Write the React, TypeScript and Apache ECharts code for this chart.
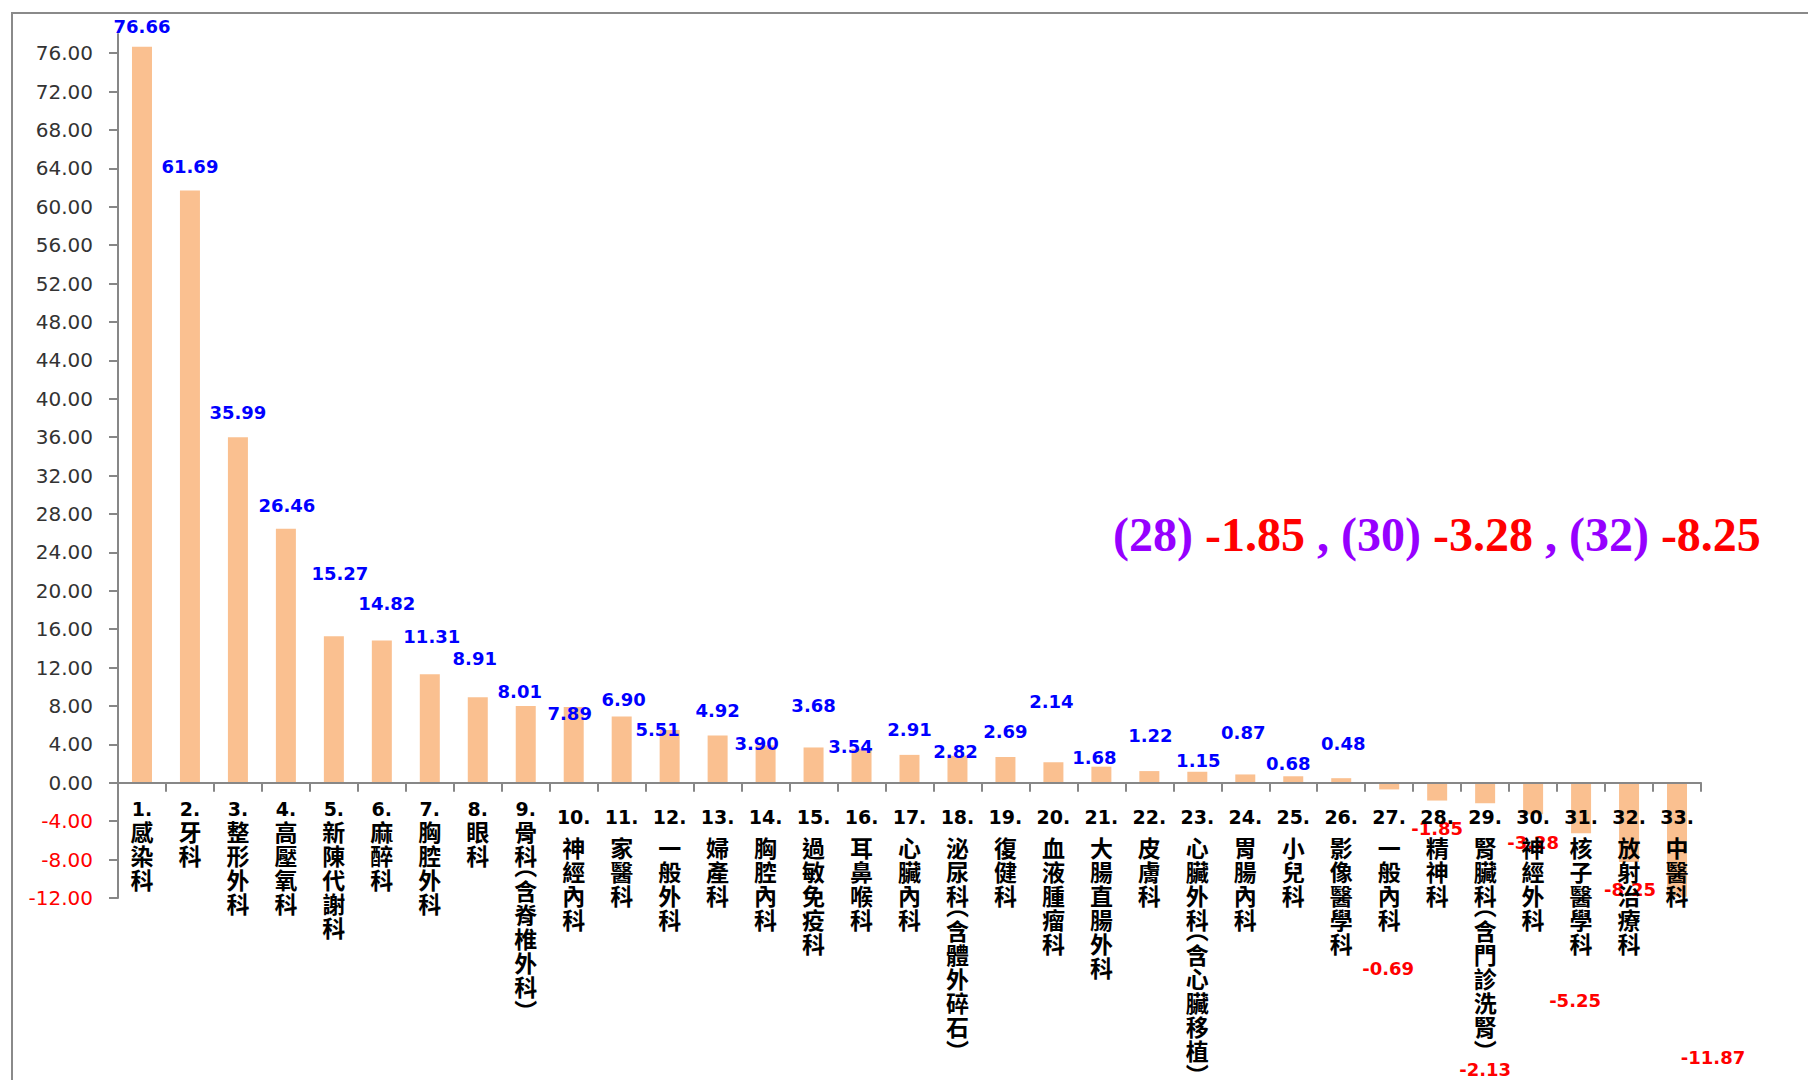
import React, { useEffect, useRef } from "react";
import * as echarts from "echarts";

// Departments in ranking order (number prefix is part of the label)
const departments = [
  "1.感染科", "2.牙科", "3.整形外科", "4.高壓氧科", "5.新陳代謝科", "6.麻醉科",
  "7.胸腔外科", "8.眼科", "9.骨科(含脊椎外科)", "10.神經內科", "11.家醫科",
  "12.一般外科", "13.婦產科", "14.胸腔內科", "15.過敏免疫科", "16.耳鼻喉科",
  "17.心臟內科", "18.泌尿科(含體外碎石)", "19.復健科", "20.血液腫瘤科",
  "21.大腸直腸外科", "22.皮膚科", "23.心臟外科(含心臟移植)", "24.胃腸內科",
  "25.小兒科", "26.影像醫學科", "27.一般內科", "28.精神科",
  "29.腎臟科(含門診洗腎)", "30.神經外科", "31.核子醫學科", "32.放射治療科", "33.中醫科",
];

// Growth per department
const growthRates = [
  76.66, 61.69, 35.99, 26.46, 15.27, 14.82, 11.31, 8.91, 8.01, 7.89, 6.9,
  5.51, 4.92, 3.9, 3.68, 3.54, 2.91, 2.82, 2.69, 2.14, 1.68, 1.22, 1.15,
  0.87, 0.68, 0.48, -0.69, -1.85, -2.13, -3.28, -5.25, -8.25, -11.87,
];

// Value-axis tick labels
const yTicks = [
  -12, -8, -4, 0, 4, 8, 12, 16, 20, 24, 28, 32, 36, 40, 44, 48, 52, 56, 60,
  64, 68, 72, 76,
];

// Highlighted departments in the side note
const noteIds = ["(28)", "(30)", "(32)"];
const noteValues = ["-1.85", "-3.28", "-8.25"];

// Hand-placed nudges [dx, dy] (px) for the value labels so they do not collide
const labelNudge: [number, number][] = [
  [0, -11], [0, -15], [0, -16], [1, -14], [6, -54], [5, -28], [2, -29],
  [-3, -30], [-6, -5], [-4, 15], [2, -8], [-12, 9], [0, -16], [-9, 7],
  [0, -33], [-11, 7], [0, -16], [-2, 5], [0, -16], [-2, -52], [-7, 0],
  [1, -27], [1, -2], [-2, -33], [-5, -4], [2, -26],
  [-1, 170], [0, 19], [0, 257], [0, 19], [-6, 158], [1, 18], [36, 152],
];

const AXIS_GREY = "#878787";
const BAR_COLOR = "#FAC090";
const Y_MIN = -12;
const Y_MAX = 78;
const GRID_TOP = 34;
const GRID_BOTTOM = 182;
const CHART_H = 1080;

// Category labels hang just below the zero line rather than the grid floor
const plotH = CHART_H - GRID_TOP - GRID_BOTTOM;
const zeroToFloor = (plotH * (0 - Y_MIN)) / (Y_MAX - Y_MIN);
const LABEL_GAP = 17;

// Stack a department name vertically: number on top, then one glyph per line
function verticalLabel(name: string): string {
  const m = name.match(/^(\d+\.)(.*)$/);
  const num = m ? m[1] : "";
  const rest = m ? m[2] : name;
  const lines: string[] = [];
  if (num) lines.push(`{${num.length > 2 ? "n2" : "n1"}|${num}}`);
  for (const ch of Array.from(rest)) {
    if (ch === "(") lines.push("{po|︵}");
    else if (ch === ")") lines.push("{pc|︶}");
    else lines.push(`{c|${ch}}`);
  }
  return lines.join("\n");
}

const CJK_FONT = '"Noto Sans CJK TC", "Noto Sans CJK SC", sans-serif';
const cjk = { fontFamily: CJK_FONT, fontWeight: "bold", fontSize: 23, color: "#000", align: "center" };
const digits = { fontFamily: "DejaVu Sans", fontWeight: "bold", fontSize: 19, color: "#000", align: "center" };

export default function App() {
  const ref = useRef<HTMLDivElement>(null);

  useEffect(() => {
    if (!ref.current) return;
    const chart = echarts.init(ref.current, undefined, { renderer: "svg" });

    const noteText = noteIds
      .map((id, i) => `{p|${id} }{r|${noteValues[i]}}`)
      .join("{p| , }");

    chart.setOption({
      animation: false,
      backgroundColor: "#ffffff",
      grid: {
        left: 118,
        right: 107,
        top: GRID_TOP,
        bottom: GRID_BOTTOM,
        containLabel: false,
        outerBoundsMode: "none",
      },
      xAxis: {
        type: "category",
        data: departments,
        z: 3,
        boundaryGap: true,
        axisLine: { show: true, onZero: true, lineStyle: { color: AXIS_GREY, width: 2 } },
        axisTick: { show: true, length: 9, lineStyle: { color: AXIS_GREY, width: 2 } },
        splitLine: { show: false },
        axisLabel: {
          interval: 0,
          margin: LABEL_GAP - zeroToFloor,
          color: "#000",
          formatter: (v: string) => verticalLabel(v),
          rich: {
            n1: { ...digits, lineHeight: 19 },
            n2: { ...digits, lineHeight: 35 },
            c: { ...cjk, lineHeight: 24 },
            // vertical bracket glyphs sit off-centre in their em box; pad to pull the arch back into its slot
            po: { ...cjk, lineHeight: 11, padding: [0, 0, 14, 0] },
            pc: { ...cjk, lineHeight: 11, padding: [14, 0, 0, 0] },
          },
        },
      },
      yAxis: {
        type: "value",
        min: Y_MIN,
        max: Y_MAX,
        interval: 4,
        z: 3,
        axisLine: { show: true, lineStyle: { color: AXIS_GREY, width: 2 } },
        axisTick: { show: true, length: 9, customValues: yTicks, lineStyle: { color: AXIS_GREY, width: 2 } },
        splitLine: { show: false },
        axisLabel: {
          customValues: yTicks,
          margin: 25,
          fontFamily: "DejaVu Sans",
          fontSize: 20,
          color: (v: any) => (Number(v) < 0 ? "#FF0000" : "#333333"),
          formatter: (v: any) => Number(v).toFixed(2),
        },
      },
      series: [
        {
          type: "bar",
          barWidth: 20,
          itemStyle: { color: BAR_COLOR },
          label: {
            show: true,
            distance: 0,
            fontFamily: "DejaVu Sans",
            fontWeight: "bold",
            fontSize: 18,
            formatter: (p: any) => Number(p.value).toFixed(2),
          },
          data: growthRates.map((v, i) => ({
            value: v,
            label: {
              position: v >= 0 ? "top" : "bottom",
              offset: labelNudge[i],
              color: v >= 0 ? "#0000FF" : "#FF0000",
            },
          })),
        },
      ],
      graphic: [
        {
          type: "rect",
          silent: true,
          z: -1,
          shape: { x: 12, y: 13, width: 1820, height: 1100 },
          style: { fill: "none", stroke: "#8a8a8a", lineWidth: 2 },
        },
        {
          type: "text",
          x: 1113,
          y: 534,
          style: {
            text: noteText,
            verticalAlign: "middle",
            align: "left",
            fontFamily: "Liberation Serif",
            fontWeight: "bold",
            fontSize: 48,
            rich: {
              p: { fill: "#9600FF", fontFamily: "Liberation Serif", fontWeight: "bold", fontSize: 48 },
              r: { fill: "#FF0000", fontFamily: "Liberation Serif", fontWeight: "bold", fontSize: 48 },
            },
          },
        },
      ],
    });

    return () => chart.dispose();
  }, []);

  return (
    <div
      ref={ref}
      style={{ position: "fixed", left: 0, top: 0, width: 1808, height: 1080 }}
    />
  );
}
